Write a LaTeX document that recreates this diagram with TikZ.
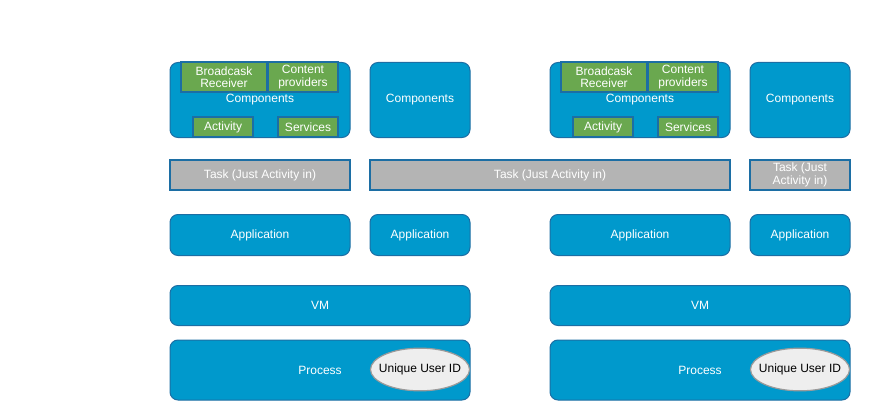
\documentclass[tikz,border=0pt]{standalone}
\usepackage{fontspec}
\setmainfont{Liberation Sans}
\usetikzlibrary{shapes.geometric}
\definecolor{boxblue}{HTML}{0099CC}
\definecolor{lineblue}{HTML}{1C6EA4}
\definecolor{compgreen}{HTML}{6AA84F}
\definecolor{taskgray}{HTML}{B4B4B4}
\definecolor{idgray}{HTML}{EEEEEE}
\definecolor{idline}{HTML}{9A9A9A}
\tikzset{
  blubox/.style={draw=lineblue,line width=1pt,fill=boxblue,rounded corners=8pt,
     text=white,font=\fontsize{12}{13}\selectfont,inner sep=0pt},
  grnbox/.style={draw=lineblue,line width=1.2pt,fill=compgreen,text=white,
     font=\fontsize{12}{12.5}\selectfont,inner sep=0pt,align=center},
  taskbox/.style={draw=lineblue,line width=1.6pt,fill=taskgray,text=white,
     font=\fontsize{12}{13}\selectfont,inner sep=0pt,align=center,minimum height=30pt},
  uidnode/.style={ellipse,draw=idline,line width=1.2pt,fill=idgray,text=black,
     font=\fontsize{12}{13}\selectfont,inner xsep=-6pt,inner ysep=9.5pt}
}
\begin{document}
\begin{tikzpicture}[x=1pt,y=-1pt]
\useasboundingbox (0,0) rectangle (870,420);

% componenti, applicazioni, vm e processi (due gruppi uguali)
\foreach \s/\g in {0/a,380/b}{
  \node[blubox,minimum width=180pt,minimum height=75pt] at (260+\s,100) (comp\g) {Components};
  \node[grnbox,minimum width=86pt,minimum height=30pt] at (224+\s,77) (bcast\g) {Broadcask\\Receiver};
  \node[grnbox,minimum width=70pt,minimum height=30pt] at (303+\s,77) (cprov\g) {Content\\providers};
  \node[grnbox,minimum width=60pt,minimum height=20pt] at (223+\s,127) (activ\g) {Activity};
  \node[grnbox,minimum width=60pt,minimum height=20pt] at (308+\s,127) (servc\g) {Services};
  \node[blubox,minimum width=100pt,minimum height=75pt] at (420+\s,100) (compb\g) {Components};
  \node[blubox,minimum width=180pt,minimum height=41pt] at (260+\s,235) (app\g) {Application};
  \node[blubox,minimum width=100pt,minimum height=41pt] at (420+\s,235) (appb\g) {Application};
  \node[blubox,minimum width=300pt,minimum height=40pt] at (320+\s,305.5) (vm\g) {VM};
  \node[blubox,minimum width=300pt,minimum height=60pt] at (320+\s,370) (proc\g) {Process};
  \node[uidnode] at (420+\s,369.5) (uid\g) {Unique User ID};
}

% task
\node[taskbox,minimum width=180pt] at (260,175) (taska) {Task (Just Activity in)};
\node[taskbox,minimum width=360pt] at (550,175) (taskb) {Task (Just Activity in)};
\node[taskbox,minimum width=100pt] at (800,175) (taskc) {Task (Just\\Activity in)};
\end{tikzpicture}
\end{document}
